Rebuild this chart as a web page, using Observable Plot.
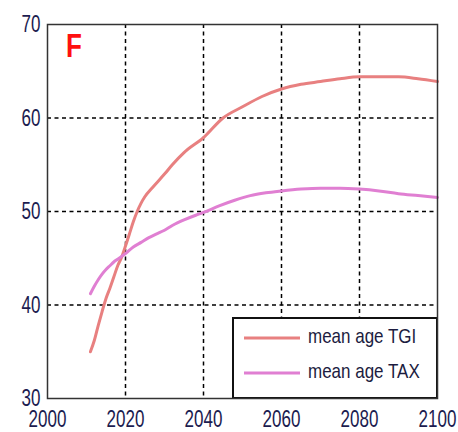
<!DOCTYPE html>
<html>
<head>
<meta charset="utf-8">
<script src="https://cdn.jsdelivr.net/npm/d3@7"></script>
<script src="https://cdn.jsdelivr.net/npm/@observablehq/plot@0.6"></script>
<style>
  body { margin: 0; background: #fff; }
  svg { display: block; }
</style>
</head>
<body>
<script>
// ---- data ----
const tgiYears = [2011,2012,2013,2014,2015,2016,2017,2018,2019,2020,2021,2022,2023,2024,2025,2027,2030,2032,2035,2040,2045,2050,2055,2060,2065,2070,2075,2080,2085,2090,2095,2100];
const tgiValues = [35.0,36.2,37.8,39.3,40.7,41.8,43.0,44.2,45.1,46.3,47.6,48.9,50.0,50.9,51.6,52.6,54.0,55.0,56.3,57.9,60.0,61.2,62.3,63.1,63.6,63.9,64.2,64.4,64.4,64.4,64.2,63.9];
const taxYears = [2011,2012,2013,2014,2015,2016,2017,2018,2019,2020,2022,2024,2026,2028,2030,2032,2035,2038,2040,2044,2048,2052,2056,2060,2065,2070,2075,2080,2085,2090,2095,2100];
const taxValues = [41.2,42.0,42.7,43.3,43.8,44.2,44.6,44.9,45.2,45.5,46.2,46.7,47.2,47.6,48.0,48.5,49.1,49.6,49.9,50.6,51.2,51.7,52.0,52.2,52.4,52.5,52.5,52.4,52.2,51.9,51.7,51.5];
const seriesNames = ["mean age TGI", "mean age TAX"];
const seriesColors = ["#e88080", "#e07fd2"];
const xTicks = [2000, 2020, 2040, 2060, 2080, 2100];
const yTicks = [30, 40, 50, 60, 70];
const xGrid = [2020, 2040, 2060, 2080];
const yGrid = [40, 50, 60];
const panelLabel = "F";

const tgi = tgiYears.map((x, i) => ({x, y: tgiValues[i]}));
const tax = taxYears.map((x, i) => ({x, y: taxValues[i]}));

const legendMark = (index, scales, values, dim) => {
  const g = d3.create("svg:g");
  const right = dim.width - dim.marginRight;
  const bottom = dim.height - dim.marginBottom;
  const bw = 204, bh = 80;
  g.append("rect").attr("x", right - bw).attr("y", bottom - bh)
    .attr("width", bw).attr("height", bh)
    .attr("fill", "white").attr("stroke", "#111").attr("stroke-width", 2);
  seriesNames.forEach((name, i) => {
    const cy = bottom - bh + 20 + i * 35;
    g.append("line").attr("x1", right - bw + 11).attr("x2", right - bw + 67)
      .attr("y1", cy).attr("y2", cy)
      .attr("stroke", seriesColors[i]).attr("stroke-width", 3);
    g.append("text").attr("transform", `translate(${right - bw + 75},${cy + 5}) scale(1,1.2)`)
      .attr("text-anchor", "start")
      .attr("font-size", 17).attr("fill", "#1c1c40").text(name);
  });
  return g.node();
};

const labelMark = (index, scales, values, dim) => {
  const g = d3.create("svg:g");
  g.append("text")
    .attr("transform", `translate(${dim.marginLeft + 19},${dim.marginTop + 33}) scale(1,1.25)`)
    .attr("text-anchor", "start")
    .attr("font-size", 26).attr("font-weight", "bold").attr("fill", "#ff1010")
    .text(panelLabel);
  return g.node();
};

const plot = Plot.plot({
  width: 458,
  height: 432,
  marginLeft: 47,
  marginRight: 21,
  marginTop: 24,
  marginBottom: 34,
  style: {fontFamily: "'Liberation Sans', Arial, sans-serif", fontSize: "17px", color: "#1c1c50", background: "white"},
  x: {domain: [2000, 2100]},
  y: {domain: [30, 70]},
  marks: [
    Plot.gridX(xGrid, {stroke: "#000", strokeOpacity: 1, strokeWidth: 1.5, strokeDasharray: "4,3.5"}),
    Plot.gridY(yGrid, {stroke: "#000", strokeOpacity: 1, strokeWidth: 1.5, strokeDasharray: "4,3.5"}),
    Plot.line(tgi, {x: "x", y: "y", stroke: seriesColors[0], strokeWidth: 3, curve: "monotone-x"}),
    Plot.line(tax, {x: "x", y: "y", stroke: seriesColors[1], strokeWidth: 3, curve: "monotone-x"}),
    legendMark,
    labelMark,
    Plot.frame({stroke: "#333", strokeWidth: 1.5}),
    Plot.axisX({ticks: xTicks, tickSize: 0, tickPadding: 14, tickFormat: d => String(d), label: null}),
    Plot.axisY({ticks: yTicks, tickSize: 0, tickPadding: 7, label: null})
  ]
});
document.body.appendChild(plot);

// stretch tick labels vertically to match the reference's tall glyphs
plot.querySelectorAll('g[aria-label$="tick label"] text').forEach(el => {
  const b = el.getBBox();
  const cy = b.y + b.height / 2;
  const t = el.getAttribute("transform") || "";
  el.setAttribute("transform", `${t} translate(0,${cy}) scale(1,1.4) translate(0,${-cy})`);
});
</script>
</body>
</html>
